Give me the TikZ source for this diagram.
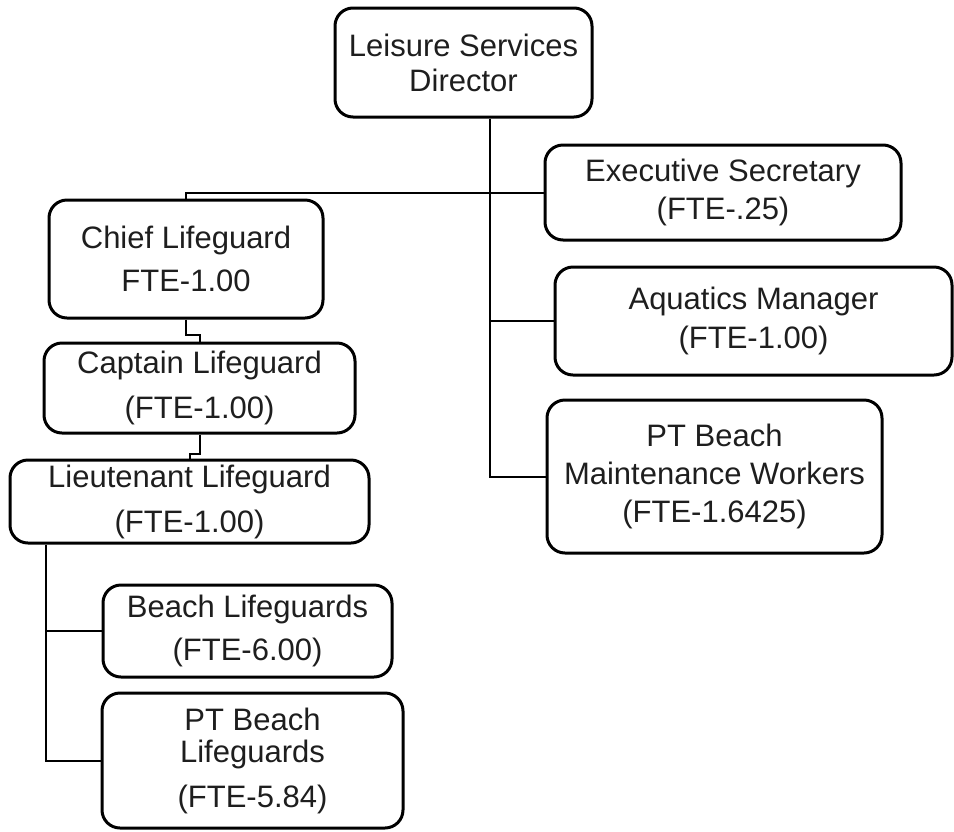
\documentclass[tikz,border=0pt]{standalone}
\usepackage{fontspec}
\setmainfont{Liberation Sans}
\definecolor{orgtext}{RGB}{30, 30, 30}

\begin{document}
\begin{tikzpicture}[x=1pt, y=-1pt,
  every node/.style={font=\fontsize{31}{36}\selectfont, text=orgtext},
  post/.style={draw, line width=3pt, rounded corners=18pt, align=center, inner sep=0pt},
  link/.style={line width=2pt}]
  \useasboundingbox (0,0) rectangle (954,831);

  % Top of the chart
  \node[post, minimum width=257pt, minimum height=109pt] (director) at (463.5,62.5)
    {Leisure Services\\[-1pt]Director};

  % Right branch
  \node[post, minimum width=356pt, minimum height=95pt] (secretary) at (723,192.5)
    {Executive Secretary\\[2pt](FTE-.25)};
  \node[post, minimum width=397pt, minimum height=108pt] (aquatics) at (753.5,321)
    {Aquatics Manager\\[3pt](FTE-1.00)};
  \node[post, minimum width=335pt, minimum height=153pt] (maint) at (714.5,476.5)
    {PT Beach\\[2pt]Maintenance Workers\\[2pt](FTE-1.6425)};

  % Lifeguard chain on the left
  \node[post, minimum width=274pt, minimum height=118pt] (chief) at (186,259)
    {Chief Lifeguard\\[7pt]FTE-1.00};
  \node[post, minimum width=311pt, minimum height=90pt] (captain) at (199.5,388)
    {Captain Lifeguard\\[9pt](FTE-1.00)};
  \node[post, minimum width=359pt, minimum height=83pt] (lieut) at (189.5,501.5)
    {Lieutenant Lifeguard\\[9pt](FTE-1.00)};
  \node[post, minimum width=289pt, minimum height=92pt] (beach) at (247.5,631)
    {Beach Lifeguards\\[7pt](FTE-6.00)};
  \node[post, minimum width=301pt, minimum height=135pt] (ptbeach) at (252.5,760.5)
    {PT Beach\\[-4pt]Lifeguards\\[9pt](FTE-5.84)};

  % Connectors
  \coordinate (spine) at (490,477);
  \draw[link] (director.south -| spine) |- (maint.west);
  \draw[link] (aquatics.west) -- (aquatics.west -| spine);
  \draw[link] (secretary.west) -| (chief.north);

  \draw[link] (chief.south) -- ++(0,15) -| (captain.north);
  \draw[link] (captain.south) -- ++(0,19) -| (lieut.north);

  \coordinate (stem) at ([xshift=37pt]lieut.south west);
  \draw[link] (stem) |- (ptbeach.west);
  \draw[link] (beach.west) -- (beach.west -| stem);
\end{tikzpicture}
\end{document}
